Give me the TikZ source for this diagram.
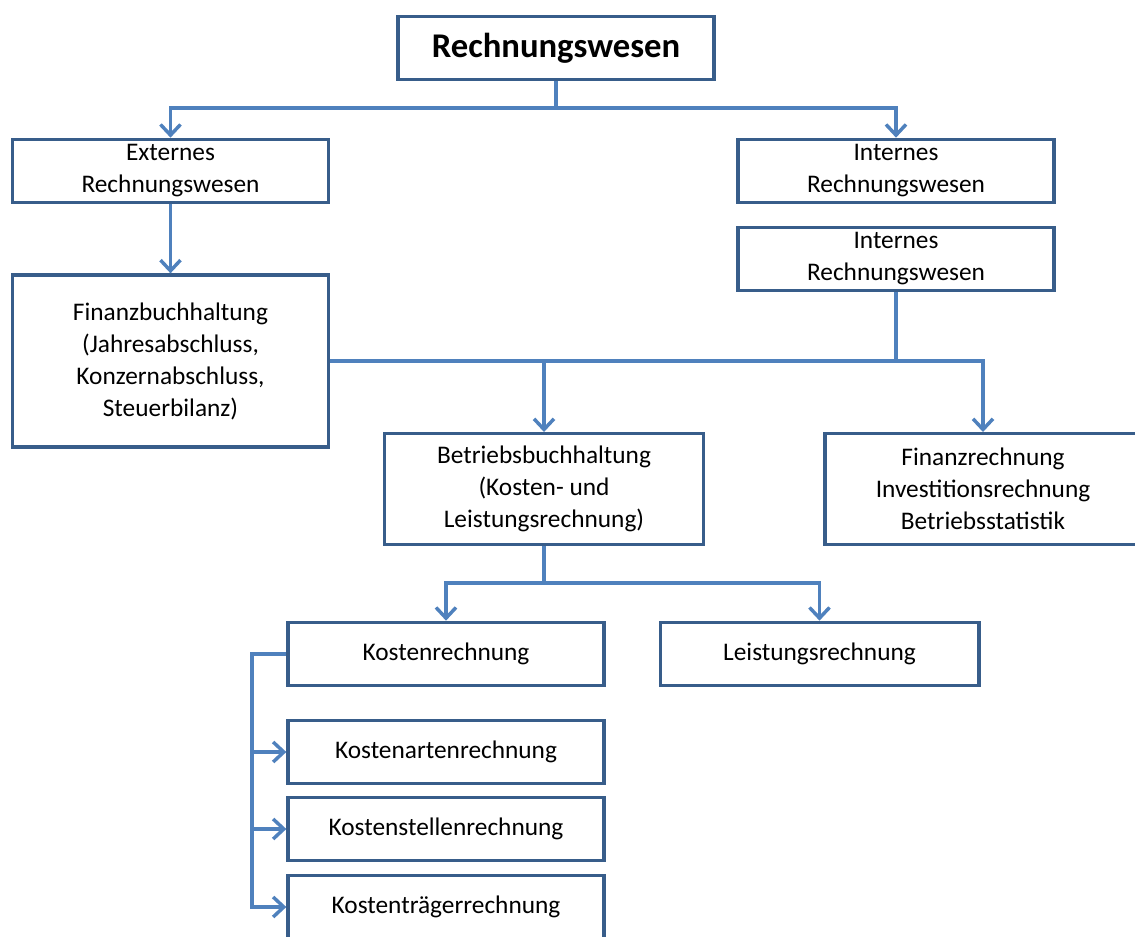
\documentclass[tikz,border=0pt]{standalone}
\usepackage{fontspec}
\setmainfont{Carlito}
\usetikzlibrary{arrows.meta}
\definecolor{boxblue}{RGB}{56,93,138}
\definecolor{lineblue}{RGB}{79,129,189}

\begin{document}
\begin{tikzpicture}[x=0.75pt,y=0.75pt,yscale=-1,xscale=1,
	box/.style={draw=boxblue, line width=2.5pt, fill=white, align=center, inner sep=0pt,
		font=\fontsize{19}{24}\selectfont, minimum width=237pt, minimum height=47.5pt},
	conn/.style={draw=lineblue, line width=2.6pt},
	arr/.style={conn, -{Straight Barb[length=8pt,width=15pt,line width=2.6pt]}}]
		\clip (0,0) rectangle (1135,936);
		
		%boxes
		\node [box, minimum width=237pt, font=\fontsize{26}{30}\selectfont\bfseries] (rw) at (556,48) {Rechnungswesen};
		\node [box] (ext) at (170.5,171) {Externes\\Rechnungswesen};
		\node [box] (int) at (896,171) {Internes\\Rechnungswesen};
		\node [box] (int2) at (896,259) {Internes\\Rechnungswesen};
		\node [box, minimum height=129pt] (fibu) at (170.5,361) {Finanzbuchhaltung\\(Jahresabschluss,\\Konzernabschluss,\\Steuerbilanz)};
		\node [box, minimum width=239.5pt, minimum height=83pt] (bebu) at (544,489) {Betriebsbuchhaltung\\(Kosten- und\\Leistungsrechnung)};
		\node [box, minimum height=83pt] (fire) at (983,489) {Finanzrechnung\\Investitionsrechnung\\Betriebsstatistik};
		\node [box] (kore) at (446,654) {Kostenrechnung};
		\node [box, minimum width=239pt] (lere) at (819.5,654) {Leistungsrechnung};
		\node [box] (kar) at (446,752) {Kostenartenrechnung};
		\node [box] (kst) at (446,829) {Kostenstellenrechnung};
		\node [box] (ktr) at (446,907) {Kostenträgerrechnung};
		
		%split points
		\coordinate (s1) at (556,108);
		\coordinate (s2) at (544,583);
		\coordinate (s3) at (252,654);
		
		\draw [conn] (rw.south) -- (s1);
		\draw [arr] (s1) -| (ext.north);
		\draw [arr] (s1) -| (int.north);
		\draw [arr] (ext.south) -- (fibu.north);
		
		\draw [conn] (int2.south) -- (int2.south |- fibu.east);
		\draw [arr] (fibu.east) -| (fire.north);
		\draw [arr] (fibu.east -| bebu.north) -- (bebu.north);
		
		\draw [conn] (bebu.south) -- (s2);
		\draw [arr] (s2) -| (kore.north);
		\draw [arr] (s2) -| (lere.north);
		
		\draw [arr] (kore.west) -- (s3) |- (ktr.west);
		\draw [arr] (s3 |- kar.west) -- (kar.west);
		\draw [arr] (s3 |- kst.west) -- (kst.west);
		
\end{tikzpicture}
\end{document}
